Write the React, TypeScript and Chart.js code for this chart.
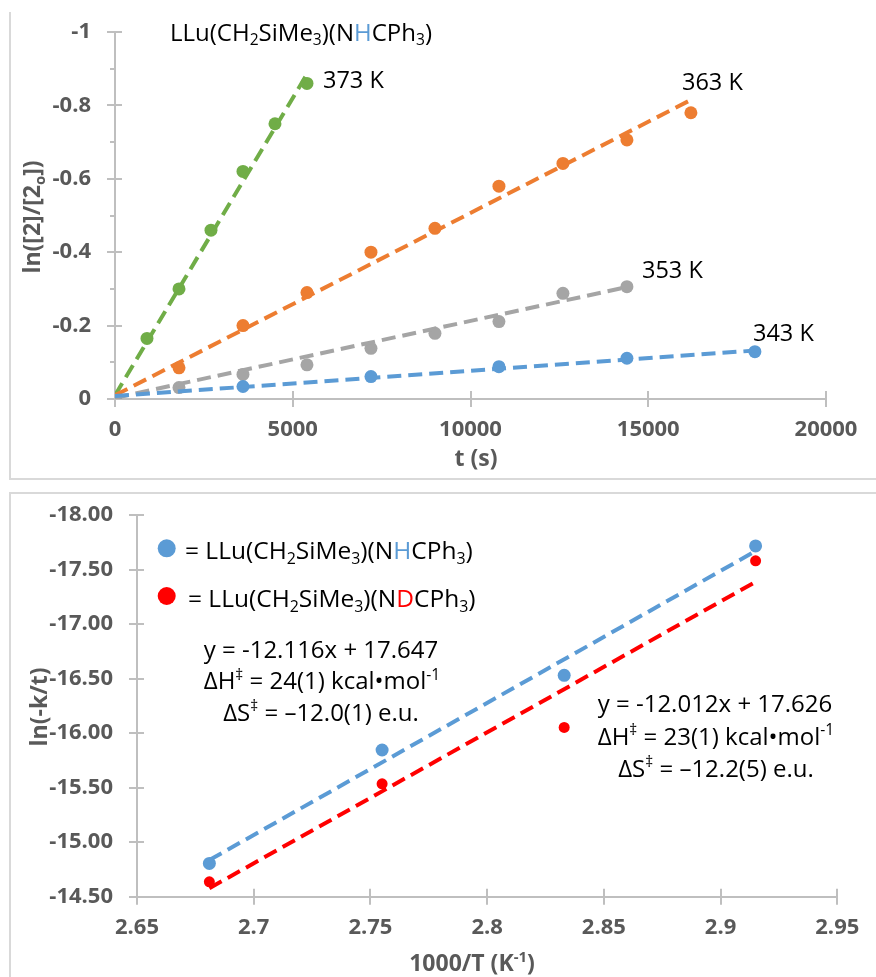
import React, { useEffect, useRef } from "react";
import { Chart, registerables } from "chart.js";
Chart.register(...registerables);

const FONT = '"Open Sans", sans-serif';
const BLUE = "#5B9BD5";
const ORANGE = "#ED7D31";
const GRAY = "#A5A5A5";
const GREEN = "#70AD47";
const RED = "#FF0000";
const AXIS = "#BFBFBF";
const LABEL = "#595959";

// ---------- Top chart data: ln([2]/[2o]) vs t (s) ----------
const times373 = [0, 900, 1800, 2700, 3600, 4500, 5400];
const values373 = [0, -0.165, -0.3, -0.46, -0.62, -0.75, -0.86];
const times363 = [0, 1800, 3600, 5400, 7200, 9000, 10800, 12600, 14400, 16200];
const values363 = [0, -0.085, -0.2, -0.29, -0.4, -0.465, -0.58, -0.642, -0.706, -0.78];
const times353 = [0, 1800, 3600, 5400, 7200, 9000, 10800, 12600, 14400];
const values353 = [0, -0.031, -0.067, -0.093, -0.138, -0.179, -0.211, -0.288, -0.306];
const times343 = [0, 3600, 7200, 10800, 14400, 18000];
const values343 = [0, -0.034, -0.061, -0.088, -0.111, -0.129];

// linear trendline end values, spanning [0, last time]
const trend373 = [-0.01, -0.885];
const trend363 = [-0.01, -0.815];
const trend353 = [-0.003, -0.305];
const trend343 = [-0.008, -0.132];

const topXTicks = [0, 5000, 10000, 15000, 20000];
const topXLabels = ["0", "5000", "10000", "15000", "20000"];
const topYTicks = [0, -0.2, -0.4, -0.6, -0.8, -1];
const topYLabels = ["0", "-0.2", "-0.4", "-0.6", "-0.8", "-1"];
const topYMinor = [-0.1, -0.3, -0.5, -0.7, -0.9];
const tempLabels = ["373 K", "363 K", "353 K", "343 K"];

// ---------- Bottom chart data: Eyring plot ----------
const invT = [2.681, 2.755, 2.833, 2.915];
const lnH = [-14.805, -15.846, -16.531, -17.718];
const lnD = [-14.637, -15.536, -16.053, -17.581];
const fitSlope = [-12.116, -12.012];
const fitIntercept = [17.647, 17.626];

const botXTicks = [2.65, 2.7, 2.75, 2.8, 2.85, 2.9, 2.95];
const botXLabels = ["2.65", "2.7", "2.75", "2.8", "2.85", "2.9", "2.95"];
const botYTicks = [-18, -17.5, -17, -16.5, -16, -15.5, -15, -14.5];
const botYLabels = ["-18.00", "-17.50", "-17.00", "-16.50", "-16.00", "-15.50", "-15.00", "-14.50"];

type Seg = { t: string; sub?: boolean; sup?: boolean; color?: string };

function drawRich(
  ctx: CanvasRenderingContext2D,
  segs: Seg[],
  x: number,
  cy: number,
  size: number,
  align: "left" | "center" | "right",
  weight = "normal",
  baseColor = "#000"
) {
  const parts = segs.map((s) => {
    const fs = s.sub || s.sup ? size * 0.65 : size;
    ctx.font = `${weight} ${fs}px ${FONT}`;
    return { ...s, fs, w: ctx.measureText(s.t).width };
  });
  const total = parts.reduce((a, p) => a + p.w, 0);
  let sx = align === "center" ? x - total / 2 : align === "right" ? x - total : x;
  const base = cy + 0.357 * size;
  ctx.textAlign = "left";
  ctx.textBaseline = "alphabetic";
  for (const p of parts) {
    ctx.font = `${weight} ${p.fs}px ${FONT}`;
    ctx.fillStyle = p.color || baseColor;
    let by = base;
    if (p.sub) by += 0.2 * size;
    if (p.sup) by -= 0.38 * size;
    ctx.fillText(p.t, sx, by);
    sx += p.w;
  }
}

function drawCrossTicks(chart: any, minor: number[]) {
  const ctx = chart.ctx as CanvasRenderingContext2D;
  const { x, y } = chart.scales;
  const area = chart.chartArea;
  ctx.save();
  ctx.strokeStyle = AXIS;
  ctx.lineWidth = 2;
  ctx.beginPath();
  for (const t of x.ticks) {
    const px = Math.round(x.getPixelForValue(t.value));
    if (Math.abs(px - area.left) < 2) continue;
    ctx.moveTo(px, area.bottom);
    ctx.lineTo(px, area.bottom - 8);
  }
  for (const t of y.ticks) {
    const py = Math.round(y.getPixelForValue(t.value));
    if (Math.abs(py - area.bottom) < 2) continue;
    ctx.moveTo(area.left, py);
    ctx.lineTo(area.left + 7, py);
  }
  for (const v of minor) {
    const py = Math.round(y.getPixelForValue(v));
    ctx.moveTo(area.left, py);
    ctx.lineTo(area.left - 5, py);
  }
  ctx.stroke();
  ctx.restore();
}

const compound = (mid: string, color: string): Seg[] => [
  { t: "LLu(CH" },
  { t: "2", sub: true },
  { t: "SiMe" },
  { t: "3", sub: true },
  { t: ")(N" },
  { t: mid, color },
  { t: "CPh" },
  { t: "3", sub: true },
  { t: ")" },
];

const topPlugin = {
  id: "topDecor",
  afterDraw(chart: any) {
    const ctx = chart.ctx as CanvasRenderingContext2D;
    drawCrossTicks(chart, topYMinor);
    ctx.save();
    // panel border
    ctx.strokeStyle = "#D9D9D9";
    ctx.lineWidth = 2;
    ctx.beginPath();
    ctx.moveTo(10, 12);
    ctx.lineTo(10, 479);
    ctx.lineTo(876, 479);
    ctx.stroke();
    drawRich(ctx, compound("H", BLUE), 170, 32, 24, "left");
    drawRich(ctx, [{ t: tempLabels[0] }], 323, 80, 23.5, "left");
    drawRich(ctx, [{ t: tempLabels[1] }], 682, 82, 23.5, "left");
    drawRich(ctx, [{ t: tempLabels[2] }], 642, 270, 23.5, "left");
    drawRich(ctx, [{ t: tempLabels[3] }], 753, 333, 23.5, "left");
    drawRich(ctx, [{ t: "t (s)" }], 476, 458, 23, "center", "bold", LABEL);
    ctx.translate(32, 217);
    ctx.rotate(-Math.PI / 2);
    drawRich(ctx, [{ t: "ln([2]/[2" }, { t: "o", sub: true }, { t: "])" }], 0, 0, 23, "center", "bold", LABEL);
    ctx.restore();
  },
};

const botPlugin = {
  id: "botDecor",
  afterDraw(chart: any) {
    const ctx = chart.ctx as CanvasRenderingContext2D;
    drawCrossTicks(chart, []);
    ctx.save();
    ctx.strokeStyle = "#D9D9D9";
    ctx.lineWidth = 2;
    ctx.beginPath();
    ctx.moveTo(876, 7);
    ctx.lineTo(10, 7);
    ctx.lineTo(10, 491);
    ctx.stroke();
    // legend
    ctx.fillStyle = BLUE;
    ctx.beginPath();
    ctx.arc(166.7, 62.3, 9, 0, Math.PI * 2);
    ctx.fill();
    ctx.fillStyle = RED;
    ctx.beginPath();
    ctx.arc(166.7, 110, 9, 0, Math.PI * 2);
    ctx.fill();
    drawRich(ctx, [{ t: "= " }, ...compound("H", BLUE)], 185, 64, 24.5, "left");
    drawRich(ctx, [{ t: "= " }, ...compound("D", RED)], 188, 112, 24.5, "left");
    // equations
    drawRich(ctx, [{ t: "y = -12.116x + 17.647" }], 321, 163, 24, "center");
    drawRich(ctx, [{ t: "ΔH" }, { t: "‡", sup: true }, { t: " = 24(1) kcal•mol" }, { t: "-1", sup: true }], 322, 194.5, 24, "center");
    drawRich(ctx, [{ t: "ΔS" }, { t: "‡", sup: true }, { t: " = –12.0(1) e.u." }], 321, 226, 24, "center");
    drawRich(ctx, [{ t: "y = -12.012x + 17.626" }], 715, 217, 24, "center");
    drawRich(ctx, [{ t: "ΔH" }, { t: "‡", sup: true }, { t: " = 23(1) kcal•mol" }, { t: "-1", sup: true }], 716, 250, 24, "center");
    drawRich(ctx, [{ t: "ΔS" }, { t: "‡", sup: true }, { t: " = –12.2(5) e.u." }], 716, 282, 24, "center");
    // axis titles
    drawRich(ctx, [{ t: "1000/T (K" }, { t: "-1", sup: true }, { t: ")" }], 472, 477, 23, "center", "bold", LABEL);
    ctx.translate(39, 221);
    ctx.rotate(-Math.PI / 2);
    drawRich(ctx, [{ t: "ln(-k/t)" }], 0, 0, 23, "center", "bold", LABEL);
    ctx.restore();
  },
};

const tickFont = { family: FONT, size: 22, weight: "bold" as const };

function axis(
  min: number,
  max: number,
  ticks: number[],
  labels: string[],
  fit: (s: any) => void,
  extra: any
) {
  return {
    type: "linear" as const,
    min,
    max,
    afterBuildTicks: (s: any) => {
      s.ticks = ticks.map((v) => ({ value: v }));
    },
    afterFit: fit,
    ticks: {
      font: tickFont,
      color: LABEL,
      callback: (v: any) => {
        const i = ticks.findIndex((t) => Math.abs(t - v) < 1e-9);
        return i >= 0 ? labels[i] : "";
      },
      ...(extra.ticks || {}),
    },
    grid: { drawOnChartArea: false, drawTicks: true, tickLength: 8, color: AXIS, lineWidth: 2 },
    border: { color: AXIS, width: 2 },
    reverse: !!extra.reverse,
  };
}

const pts = (xs: number[], ys: number[]) => xs.map((x, i) => ({ x, y: ys[i] }));

function topConfig(): any {
  const series = [
    { xs: times343, ys: values343, tr: trend343, c: BLUE },
    { xs: times353, ys: values353, tr: trend353, c: GRAY },
    { xs: times363, ys: values363, tr: trend363, c: ORANGE },
    { xs: times373, ys: values373, tr: trend373, c: GREEN },
  ];
  const datasets: any[] = [];
  series.forEach((s) => {
    datasets.push({
      data: pts(s.xs, s.ys),
      backgroundColor: s.c,
      borderColor: s.c,
      pointRadius: 6.5,
      pointBorderWidth: 0,
      showLine: false,
      order: 2,
    });
    datasets.push({
      data: [
        { x: s.xs[0], y: s.tr[0] },
        { x: s.xs[s.xs.length - 1], y: s.tr[1] },
      ],
      borderColor: s.c,
      borderWidth: 4,
      borderDash: [14, 7],
      pointRadius: 0,
      showLine: true,
      fill: false,
      order: 1,
    });
  });
  return {
    type: "scatter",
    data: { datasets },
    options: {
      animation: false,
      responsive: false,
      layout: { padding: { top: 32, right: 50, left: 0, bottom: 0 } },
      plugins: { legend: { display: false }, tooltip: { enabled: false } },
      scales: {
        x: axis(0, 20000, topXTicks, topXLabels, (s) => { s.height = 87; }, { ticks: { padding: 10 } }),
        y: axis(-1, 0, topYTicks, topYLabels, (s) => { s.width = 115; }, { reverse: true, ticks: { padding: 16 } }),
      },
    },
    plugins: [topPlugin],
  };
}

function botConfig(): any {
  const first = invT[0];
  const last = invT[invT.length - 1];
  const fit = (k: number) => [
    { x: first, y: fitSlope[k] * first + fitIntercept[k] },
    { x: last, y: fitSlope[k] * last + fitIntercept[k] },
  ];
  return {
    type: "scatter",
    data: {
      datasets: [
        { data: pts(invT, lnH), backgroundColor: BLUE, borderColor: BLUE, pointRadius: 6.5, pointBorderWidth: 0, order: 2 },
        { data: pts(invT, lnD), backgroundColor: RED, borderColor: RED, pointRadius: 5.5, pointBorderWidth: 0, order: 2 },
        { data: fit(0), borderColor: BLUE, borderWidth: 4, borderDash: [14, 7], pointRadius: 0, showLine: true, order: 1 },
        { data: fit(1), borderColor: RED, borderWidth: 4, borderDash: [14, 7], pointRadius: 0, showLine: true, order: 1 },
      ],
    },
    options: {
      animation: false,
      responsive: false,
      layout: { padding: { top: 27.3, right: 38.7, left: 0, bottom: 0 } },
      plugins: { legend: { display: false }, tooltip: { enabled: false } },
      scales: {
        x: axis(2.65, 2.95, botXTicks, botXLabels, (s) => { s.height = 80.3; }, { ticks: { padding: 10 } }),
        y: axis(-18, -14.5, botYTicks, botYLabels, (s) => { s.width = 137; }, { reverse: true, ticks: { padding: 16 } }),
      },
    },
    plugins: [botPlugin],
  };
}

function ChartCanvas({ make, width, height, top }: { make: () => any; width: number; height: number; top: number }) {
  const ref = useRef<HTMLCanvasElement>(null);
  useEffect(() => {
    if (!ref.current) return;
    const chart = new Chart(ref.current, make());
    return () => chart.destroy();
  }, []);
  return (
    <canvas
      ref={ref}
      width={width}
      height={height}
      style={{ position: "absolute", left: 0, top, width, height, display: "block" }}
    />
  );
}

export default function App() {
  return (
    <div style={{ position: "absolute", left: 0, top: 0, width: 876, height: 977, background: "#fff", overflow: "hidden" }}>
      <ChartCanvas make={topConfig} width={876} height={486} top={0} />
      <ChartCanvas make={botConfig} width={876} height={491} top={486} />
    </div>
  );
}
